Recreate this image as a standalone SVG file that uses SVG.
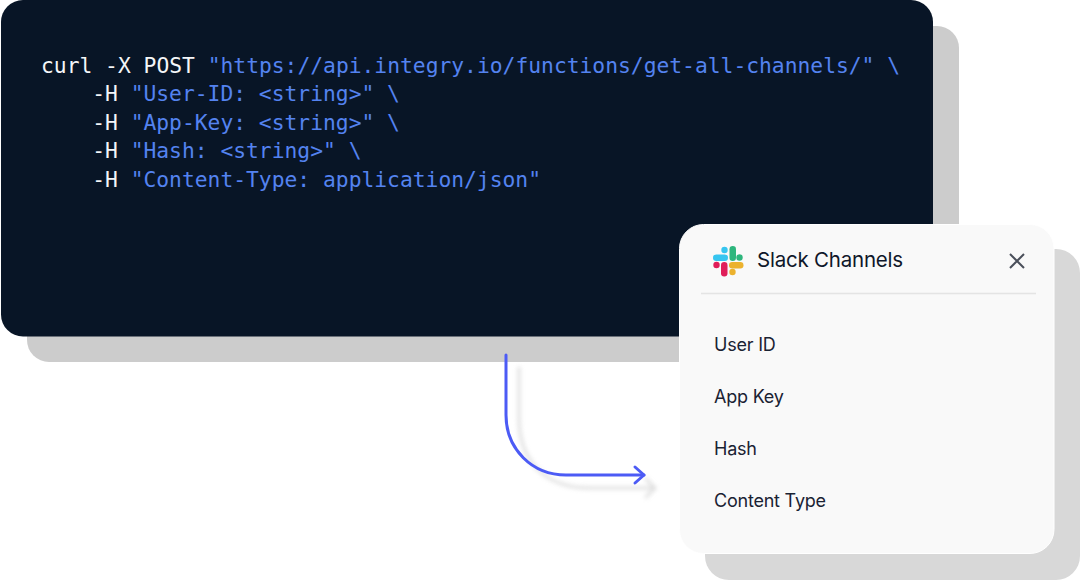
<svg xmlns="http://www.w3.org/2000/svg" width="1080" height="580" viewBox="0 0 1080 580">
<style>
.code{font-family:"DejaVu Sans Mono","Liberation Mono",monospace;font-size:21.3px;fill:#5483f0;white-space:pre}
.w{fill:#f4f6f8}
.lab{font-family:Inter,"Liberation Sans",sans-serif;font-size:18px;fill:#1a2233;letter-spacing:-.22px}
.title{font-family:Inter,"Liberation Sans",sans-serif;font-size:20.5px;fill:#0f1729;letter-spacing:-.22px}
.arrow{fill:none;stroke-linecap:round;stroke-linejoin:round;stroke-width:3px}
</style>
<defs><filter id="blur" x="-20%" y="-20%" width="140%" height="140%"><feGaussianBlur stdDeviation="2"/></filter></defs>
<rect x="27" y="26" width="932" height="336" rx="22" fill="#cccccc"/>
<rect x="705" y="249" width="375" height="331" rx="24" fill="#d8d8d8"/>
<g id="code-panel">
<rect x="1" y="0" width="932" height="336.500" rx="22" fill="#081526"/>
<text class="code" x="41" y="72.500"><tspan class="w">curl -X POST </tspan>"https://api.integry.io/functions/get-all-channels/" \</text>
<text class="code" x="92.200" y="101"><tspan class="w">-H </tspan>"User-ID: &lt;string&gt;" \</text>
<text class="code" x="92.200" y="129.500"><tspan class="w">-H </tspan>"App-Key: &lt;string&gt;" \</text>
<text class="code" x="92.200" y="158"><tspan class="w">-H </tspan>"Hash: &lt;string&gt;" \</text>
<text class="code" x="92.200" y="186.500"><tspan class="w">-H </tspan>"Content-Type: application/json"</text>
</g>
<g id="connectors">
<g class="arrow" stroke="#c8c8c8" opacity="0.6" filter="url(#blur)"><path d="M519 368V418C519 462 546 488 590 488H655"/><path d="M646 479L655 488L646 497"/></g>
<g class="arrow" stroke="#4c5bf5"><path d="M506 355V415C506 449 532 475 566 475H644"/><path d="M635 467L644 475L635 483"/></g>
</g>
<g id="slack-card">
<rect x="679.500" y="224.500" width="374.500" height="329" rx="24" fill="#f9f9f9" stroke="#ffffff"/>
<g id="slack-logo">
<rect x="713" y="254.500" width="15" height="6.500" rx="3.200" fill="#36c5f0"/><circle cx="724.500" cy="250" r="3.200" fill="#36c5f0"/>
<rect x="729.500" y="246" width="6.500" height="15" rx="3.200" fill="#2eb67d"/><circle cx="739.500" cy="257.500" r="3.200" fill="#2eb67d"/>
<rect x="729" y="262" width="14.500" height="6.500" rx="3.200" fill="#ecb22e"/><circle cx="732.500" cy="272" r="3.200" fill="#ecb22e"/>
<rect x="721" y="262" width="6.500" height="14.500" rx="3.200" fill="#e01e5a"/><circle cx="716.500" cy="265" r="3.200" fill="#e01e5a"/>
</g>
<text class="title" x="757" y="267">Slack Channels</text>
<path d="M1010 254L1024 268M1024 254L1010 268" stroke="#4a4f5a" stroke-width="2" fill="none"/>
<line x1="701" y1="293.500" x2="1036" y2="293.500" stroke="#e4e4e4" stroke-width="1.500"/>
<text class="lab" x="714" y="350.500">User ID</text>
<text class="lab" x="714" y="402.500">App Key</text>
<text class="lab" x="714" y="454.500">Hash</text>
<text class="lab" x="714" y="506.500">Content Type</text>
</g>
</svg>
